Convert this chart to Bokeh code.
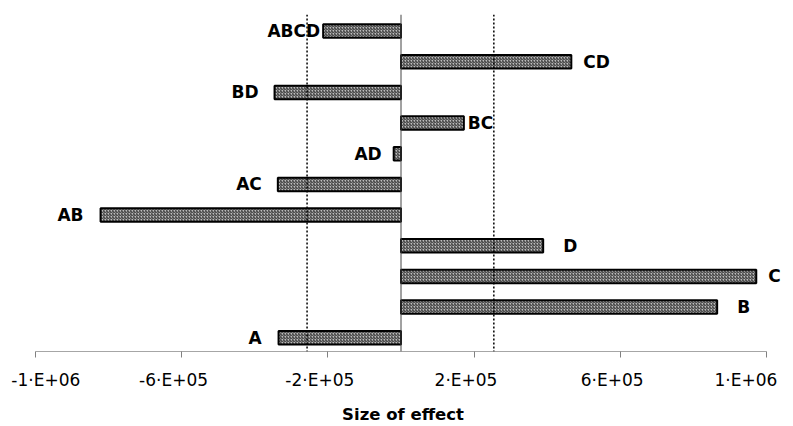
from bokeh.plotting import figure
from bokeh.models import ColumnDataSource, Span, FixedTicker, Range1d
from bokeh.embed import file_html
from bokeh.resources import INLINE
from bokeh.core.properties import value

# ---- data ----
effects = ["A", "B", "C", "D", "AB", "AC", "AD", "BC", "BD", "CD", "ABCD"]
sizes = [-335000, 865000, 972000, 389000, -822000, -337000, -20000,
         172000, -346000, 466000, -213000]
thresholds = [-257000, 254000]
tick_values = [-1e6, -6e5, -2e5, 2e5, 6e5, 1e6]
tick_labels = ["-1·E+06", "-6·E+05", "-2·E+05", "2·E+05", "6·E+05", "1·E+06"]

# ---- layout / style ----
label_gap_px = [17, 20, 12, 20, 17, 16, 12, 4, 16, 12, 3]
W, H = 793, 426
frame_left, frame_right = 12, 793
frame_top, frame_bottom = 14, 353
zero_px = 400.5
px_per_unit = 365.5 / 1e6
x_start = (frame_left - zero_px) / px_per_unit
x_end = (frame_right - zero_px) / px_per_unit
FONT = "DejaVu Sans"
NBSP = "\u00a0"

p = figure(width=W, height=H, output_backend="svg", toolbar_location=None,
           x_range=Range1d(x_start, x_end), y_range=Range1d(-0.447, 10.54),
           min_border_left=frame_left, min_border_right=W - frame_right,
           min_border_top=frame_top, min_border_bottom=H - frame_bottom)
p.outline_line_color = None
p.xgrid.visible = False
p.ygrid.visible = False
p.yaxis.visible = False
p.background_fill_color = "white"
p.border_fill_color = "white"

ys = list(range(len(effects)))
src = ColumnDataSource(dict(y=ys, size=sizes, effect=effects))
p.hbar(y="y", left=0, right="size", height=0.44, source=src,
       fill_color="#bcbcbc", line_color="black", line_width=2,
       hatch_pattern="/", hatch_color="#2e2e2e", hatch_scale=3.0, hatch_weight=1.0)

pos = dict(x=[], y=[], t=[], off=[])
neg = dict(x=[], y=[], t=[], off=[])
for i, (e, s, g) in enumerate(zip(effects, sizes, label_gap_px)):
    d = pos if s > 0 else neg
    d["x"].append(s)
    d["y"].append(i)
    d["t"].append(e)
    d["off"].append(g if s > 0 else -g)

for d, align in ((pos, "left"), (neg, "right")):
    p.text(x="x", y="y", text="t", x_offset="off", source=ColumnDataSource(d),
           text_align=align, text_baseline="middle",
           text_font=value(FONT), text_font_style="bold",
           text_font_size="17px", text_color="black")

p.add_layout(Span(location=0, dimension="height", line_color="#444444", line_width=1))
for t in thresholds:
    p.add_layout(Span(location=t, dimension="height", line_color="black",
                      line_width=1.5, line_dash="2 2"))

ax = p.xaxis[0]
ax.ticker = FixedTicker(ticks=tick_values)
overrides = {}
for v, lab in zip(tick_values, tick_labels):
    if v == tick_values[0]:
        overrides[v] = NBSP * 2 + lab
    else:
        overrides[v] = lab + NBSP * 3
ax.major_label_overrides = overrides
ax.bounds = (tick_values[0], tick_values[-1])
ax.axis_line_color = "#a6a6a6"
ax.axis_line_width = 1
ax.major_tick_line_color = "#808080"
ax.major_tick_out = 6
ax.major_tick_in = 0
ax.minor_tick_line_color = None
ax.major_label_standoff = 12
ax.major_label_text_font = FONT
ax.major_label_text_font_size = "17px"
ax.major_label_text_color = "black"
ax.axis_label = "Size of effect"
ax.axis_label_text_font = FONT
ax.axis_label_text_font_style = "bold"
ax.axis_label_text_font_size = "16.5px"
ax.axis_label_text_color = "black"
ax.axis_label_standoff = 12

open("out.html", "w").write(file_html(p, INLINE))
